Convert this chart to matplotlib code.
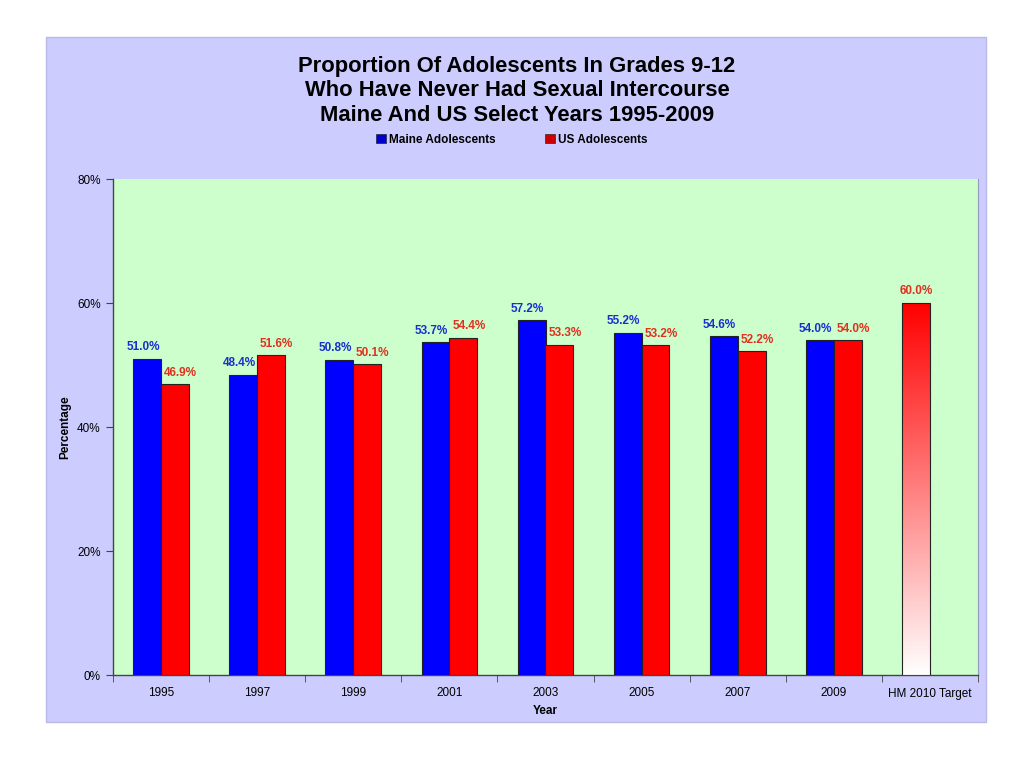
import numpy as np
import matplotlib
matplotlib.use("Agg")
import matplotlib.pyplot as plt
from matplotlib.patches import Rectangle, Patch
from matplotlib.colors import LinearSegmentedColormap

plt.rcParams['font.family'] = ['Liberation Sans', 'DejaVu Sans']

# data
years = ['1995', '1997', '1999', '2001', '2003', '2005', '2007', '2009', 'HM 2010 Target']
maine = [51.0, 48.4, 50.8, 53.7, 57.2, 55.2, 54.6, 54.0]
us = [46.9, 51.6, 50.1, 54.4, 53.3, 53.2, 52.2, 54.0]
target = 60.0
yticks = [0, 20, 40, 60, 80]

fig = plt.figure(figsize=(10.24, 7.68), dpi=100, facecolor='white')
fig.patches.append(Rectangle((46/1024, 1-722/768), 940/1024, 685/768,
                             transform=fig.transFigure, facecolor='#CCCCFF',
                             edgecolor='#B8B8E8', lw=1, zorder=-5))

ax = fig.add_axes([113/1024, 1-675/768, 865/1024, 496/768])
ax.set_facecolor('#CCFFCC')

x = np.arange(len(years))
w = 0.29
n = len(maine)
ax.bar(x[:n] - w/2, maine, w, color='#0000FF', edgecolor='#222222', lw=0.8, zorder=3)
ax.bar(x[:n] + w/2, us, w, color='#FF0000', edgecolor='#222222', lw=0.8, zorder=3)

# gradient bar for target
tx = x[n] - w/2
grad = np.linspace(0, 1, 256).reshape(-1, 1)
cmap = LinearSegmentedColormap.from_list('wr', ['#FFFFFF', '#FF0000'])
ax.imshow(grad, cmap=cmap, origin='lower', aspect='auto',
          extent=(tx - w/2, tx + w/2, 0, target), zorder=3)
ax.add_patch(Rectangle((tx - w/2, 0), w, target, facecolor='none',
                       edgecolor='#222222', lw=0.8, zorder=4))

for i in range(n):
    ax.annotate(f'{maine[i]:.1f}%', (x[i] - w/2, maine[i]), xytext=(-3, 4),
                textcoords='offset points', ha='center', va='bottom',
                fontsize=8.5, fontweight='bold', color='#1A2ECC', zorder=5)
    ax.annotate(f'{us[i]:.1f}%', (x[i] + w/2, us[i]), xytext=(4, 4),
                textcoords='offset points', ha='center', va='bottom',
                fontsize=8.5, fontweight='bold', color='#E03020', zorder=5)
ax.annotate(f'{target:.1f}%', (tx, target), xytext=(0, 4),
            textcoords='offset points', ha='center', va='bottom',
            fontsize=8.5, fontweight='bold', color='#E03020', zorder=5)

ax.set_xlim(-0.5, len(years) - 0.5)
ax.set_ylim(0, 80)
ax.set_yticks(yticks)
ax.set_yticklabels([f'{v}%' for v in yticks], fontsize=8.5)
ax.set_xticks(x)
ax.set_xticklabels(years, fontsize=8.5)
ax.tick_params(axis='x', length=0, pad=9)
ax.set_xticks(np.arange(-0.5, len(years)), minor=True)
ax.tick_params(axis='x', which='minor', length=5, direction='out', color='#444444')
ax.tick_params(axis='y', length=5, direction='out', color='#444444', pad=4)

for s in ['left', 'bottom']:
    ax.spines[s].set_color('#444444')
    ax.spines[s].set_linewidth(1)
ax.spines['top'].set_visible(False)
ax.spines['right'].set_color('#9999BB')
ax.spines['right'].set_linewidth(0.8)

ax.set_xlabel('Year', fontsize=8.5, fontweight='bold', labelpad=4)
ax.set_ylabel('Percentage', fontsize=8.5, fontweight='bold', labelpad=4)

fig.text(0.505, 1-91/768, 'Proportion Of Adolescents In Grades 9-12\nWho Have Never Had Sexual Intercourse\nMaine And US Select Years 1995-2009',
         ha='center', va='center', fontsize=15.8, fontweight='bold', linespacing=1.2)

handles = [Patch(facecolor='#0000CC', edgecolor='#222244', lw=0.5),
           Patch(facecolor='#CC0000', edgecolor='#442222', lw=0.5)]
fig.legend(handles, ['Maine Adolescents', 'US Adolescents'], loc='center',
           bbox_to_anchor=(0.5, 1-140/768), ncol=2, frameon=False,
           prop={'size': 8.5, 'weight': 'bold'}, handlelength=0.8, handleheight=0.8,
           handletextpad=0.3, columnspacing=4.2)

fig.savefig('out.png', dpi=100, facecolor='white')
